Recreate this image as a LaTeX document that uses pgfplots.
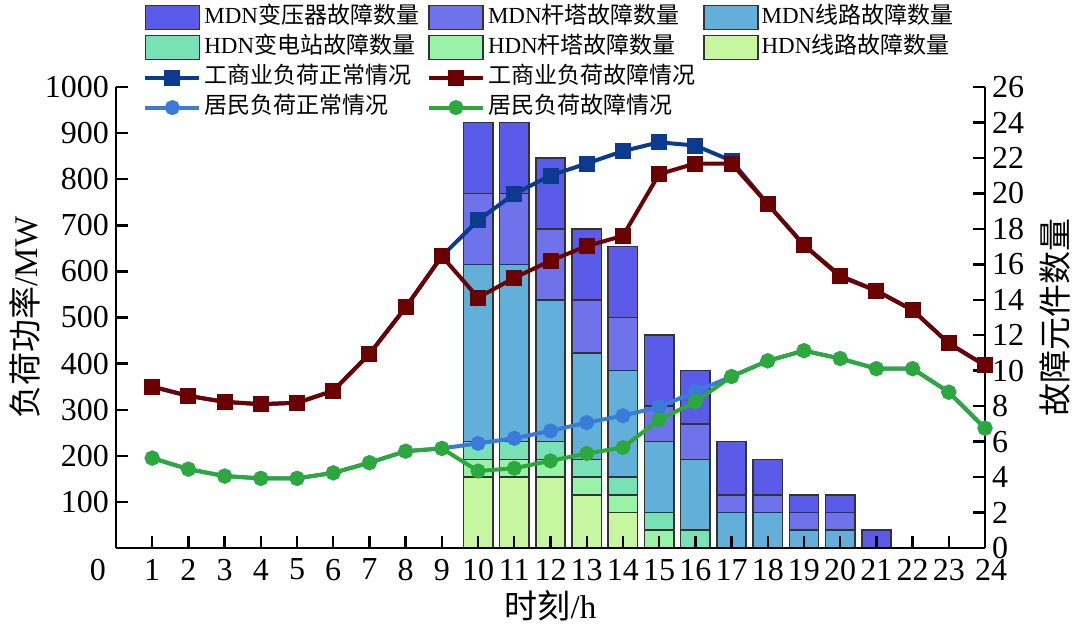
\documentclass[border=0pt]{standalone}
\usepackage{fontspec}
\setmainfont{Liberation Serif}
\newfontfamily\cjk{Noto Sans CJK SC}
\usepackage{pgfplots}
\pgfplotsset{compat=1.18}
\definecolor{cMT}{HTML}{5A5CE9}
\definecolor{cMG}{HTML}{6E73EC}
\definecolor{cML}{HTML}{62B0DA}
\definecolor{cHS}{HTML}{78E1B5}
\definecolor{cHG}{HTML}{98F2A8}
\definecolor{cHL}{HTML}{C6F7A0}
\definecolor{lDB}{HTML}{0B3A8E}
\definecolor{lDR}{HTML}{6B0000}
\definecolor{lLB}{HTML}{3A7BD9}
\definecolor{lGR}{HTML}{2CA83C}
\pgfplotsset{barleg/.style={legend image code/.code={\draw[##1] (0pt,-6pt) rectangle (27pt,6pt);}}}
\begin{document}
\begin{tikzpicture}
\useasboundingbox (-58pt,-40pt) rectangle (478pt,274pt);
% bars: right axis
\begin{axis}[
  scale only axis, width=434.5pt, height=230.5pt,
  xmin=0, xmax=24, ymin=0, ymax=26,
  axis x line=none, axis y line*=right,
  ytick={0,2,...,26},
  tick align=inside, major tick length=6pt,
  ybar stacked, bar width=0.81,
  axis line style={line width=1.2pt},
  every tick/.style={black,line width=1.2pt},
  /pgf/number format/assume math mode=true,
  tick label style={font=\fontsize{16}{16}\selectfont},
  yticklabel style={inner ysep=0pt},
  ylabel={\cjk 故障元件数量},
  ylabel style={font=\fontsize{16.5}{18}\selectfont, at={(axis description cs:1.0806,0.5)}, anchor=center},
]
\addplot[fill=cHL, draw=black!80, line width=0.8pt] coordinates {(10,4) (11,4) (12,4) (13,3) (14,2) (15,0) (16,0) (17,0) (18,0) (19,0) (20,0) (21,0)};
\addplot[fill=cHG, draw=black!80, line width=0.8pt] coordinates {(10,1) (11,1) (12,1) (13,1) (14,1) (15,1) (16,0) (17,0) (18,0) (19,0) (20,0) (21,0)};
\addplot[fill=cHS, draw=black!80, line width=0.8pt] coordinates {(10,1) (11,1) (12,1) (13,1) (14,1) (15,1) (16,1) (17,0) (18,0) (19,0) (20,0) (21,0)};
\addplot[fill=cML, draw=black!80, line width=0.8pt] coordinates {(10,10) (11,10) (12,8) (13,6) (14,6) (15,4) (16,4) (17,2) (18,2) (19,1) (20,1) (21,0)};
\addplot[fill=cMG, draw=black!80, line width=0.8pt] coordinates {(10,4) (11,4) (12,4) (13,3) (14,3) (15,2) (16,2) (17,1) (18,1) (19,1) (20,1) (21,0)};
\addplot[fill=cMT, draw=black!80, line width=0.8pt] coordinates {(10,4) (11,4) (12,4) (13,4) (14,4) (15,4) (16,3) (17,3) (18,2) (19,1) (20,1) (21,1)};
\end{axis}
% lines: left axis
\begin{axis}[
  scale only axis, width=434.5pt, height=230.5pt,
  xmin=0, xmax=24, ymin=0, ymax=1000,
  axis x line*=bottom, axis y line*=left,
  xtick={0,1,...,24},
  xticklabels={{\makebox[0pt][r]{0\hspace{5pt}}},1,2,3,4,5,6,7,8,9,10,11,12,13,14,15,16,17,18,19,20,21,22,23,{\makebox[0pt][l]{\hspace{-5pt}24}}},
  ytick={100,200,...,1000},
  tick align=inside, major tick length=6pt,
  axis line style={line width=1.2pt},
  every tick/.style={black,line width=1.2pt},
  /pgf/number format/assume math mode=true,
  /pgf/number format/1000 sep={},
  tick label style={font=\fontsize{16}{16}\selectfont},
  xticklabel style={inner ysep=0pt, yshift=-5.3pt},
  xlabel={{\cjk 时刻}/h},
  xlabel style={font=\fontsize{16.5}{18}\selectfont, at={(axis description cs:0.5,-0.126)}, anchor=center},
  ylabel={{\cjk 负荷功率}/MW},
  ylabel style={font=\fontsize{16.5}{18}\selectfont, at={(axis description cs:-0.1047,0.5)}, anchor=center},
  legend columns=3,
  legend style={at={(axis description cs:0.031,1.184)}, anchor=north west, draw=none, fill=none, inner sep=0pt,
    font=\fontsize{11.5}{12}\selectfont,
    nodes={inner xsep=1.5pt, inner ysep=0pt, text height=10.6pt, text depth=4.4pt},
    /tikz/every even column/.append style={column sep=2.5pt}},
  legend cell align=left,
  legend image code/.code={\draw[mark repeat=2,mark phase=2,#1] plot coordinates {(0pt,0pt) (13.5pt,0pt) (27pt,0pt)};},
]
\addlegendimage{barleg, fill=cMT, draw=black!80, line width=0.8pt}
\addlegendentry{MDN{\cjk 变压器故障数量}}
\addlegendimage{barleg, fill=cMG, draw=black!80, line width=0.8pt}
\addlegendentry{MDN{\cjk 杆塔故障数量}}
\addlegendimage{barleg, fill=cML, draw=black!80, line width=0.8pt}
\addlegendentry{MDN{\cjk 线路故障数量}}
\addlegendimage{barleg, fill=cHS, draw=black!80, line width=0.8pt}
\addlegendentry{HDN{\cjk 变电站故障数量}}
\addlegendimage{barleg, fill=cHG, draw=black!80, line width=0.8pt}
\addlegendentry{HDN{\cjk 杆塔故障数量}}
\addlegendimage{barleg, fill=cHL, draw=black!80, line width=0.8pt}
\addlegendentry{HDN{\cjk 线路故障数量}}
\addplot[lDB, line width=2pt, mark=square*, mark size=3pt, mark options={solid, fill=lDB}] coordinates {
(1,350) (2,330) (3,317) (4,312) (5,315) (6,341) (7,421) (8,522) (9,633) (10,711) (11,768) (12,808)
(13,834) (14,861) (15,880) (16,873) (17,840) (18,746) (19,657) (20,591) (21,558) (22,516) (23,444) (24,396)};
\addlegendentry{\cjk 工商业负荷正常情况}
\addplot[lDR, line width=2pt, mark=square*, mark size=3pt, mark options={solid, fill=lDR}] coordinates {
(1,350) (2,330) (3,317) (4,312) (5,315) (6,341) (7,421) (8,522) (9,633) (10,543) (11,586) (12,623)
(13,655) (14,677) (15,811) (16,834) (17,834) (18,746) (19,657) (20,589) (21,558) (22,516) (23,444) (24,396)};
\addlegendentry{\cjk 工商业负荷故障情况}
\addlegendimage{empty legend}
\addlegendentry{}
\addplot[lLB, line width=2pt, mark=*, mark size=2.75pt, mark options={solid, fill=lLB}] coordinates {
(1,195) (2,171) (3,156) (4,151) (5,151) (6,163) (7,185) (8,210) (9,216) (10,227) (11,238) (12,254)
(13,272) (14,287) (15,306) (16,339) (17,372) (18,406) (19,428) (20,411) (21,389) (22,389) (23,338) (24,260)};
\addlegendentry{\cjk 居民负荷正常情况}
\addplot[lGR, line width=2pt, mark=*, mark size=2.75pt, mark options={solid, fill=lGR}] coordinates {
(1,195) (2,171) (3,156) (4,151) (5,151) (6,163) (7,185) (8,210) (9,216) (10,167) (11,173) (12,189)
(13,205) (14,218) (15,278) (16,317) (17,372) (18,406) (19,428) (20,411) (21,389) (22,389) (23,338) (24,260)};
\addlegendentry{\cjk 居民负荷故障情况}
\end{axis}
\end{tikzpicture}
\end{document}
